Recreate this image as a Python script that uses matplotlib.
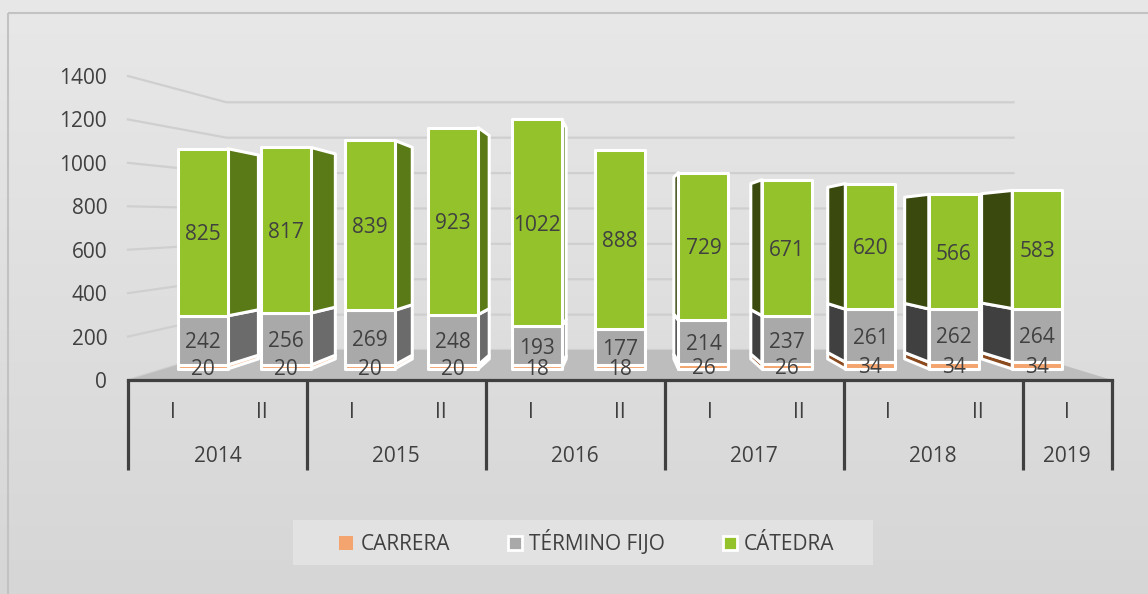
import matplotlib.pyplot as plt
from matplotlib.patches import Polygon, Patch, Rectangle
from matplotlib.colors import LinearSegmentedColormap
import numpy as np

plt.rcParams['font.family'] = ['Open Sans', 'DejaVu Sans']

# semesters per year and staff counts by contract type
periods = ['I', 'II', 'I', 'II', 'I', 'II', 'I', 'II', 'I', 'II', 'I']
years = ['2014', '2015', '2016', '2017', '2018', '2019']
year_span = [2, 2, 2, 2, 2, 1]
carrera = [20, 20, 20, 20, 18, 18, 26, 26, 34, 34, 34]
termino = [242, 256, 269, 248, 193, 177, 214, 237, 261, 262, 264]
catedra = [825, 817, 839, 923, 1022, 888, 729, 671, 620, 566, 583]
yticks = [0, 200, 400, 600, 800, 1000, 1200, 1400]

series = [
    # name, front, side when bar is left of centre, side when right of centre
    ('CARRERA', carrera, '#f4a46e', '#f7bf98', '#8a4a1e'),
    ('TÉRMINO FIJO', termino, '#a9a9a9', '#6b6b6b', '#404040'),
    ('CÁTEDRA', catedra, '#93c22b', '#5a7a17', '#3a4a0e'),
]

W, H = 1148, 594
TXT = '#404040'
FS = 15

# fake 3d: every depth plane is a scaled copy around the vanishing column
VX = 5.5
FRONT = (0.933, 0.933, 51)   # bar front faces
BACK = (0.86, 0.864, 97)     # bar back faces
WALL = (0.80, 0.815, 138)    # back wall of the chart


def proj(c, v, plane):
    sx, sy, y0 = plane
    return VX + (c - VX) * sx, y0 + sy * v


fig = plt.figure(figsize=(W / 100, H / 100), dpi=100)

bg = fig.add_axes([0, 0, 1, 1])
bg.set_xlim(0, W)
bg.set_ylim(H, 0)
bg.axis('off')
cmap = LinearSegmentedColormap.from_list('bg', ['#e8e8e8', '#d6d6d6'])
bg.imshow(np.linspace(0, 1, 256)[:, None], cmap=cmap, extent=(0, W, H, 0),
          aspect='auto')
bg.add_patch(Rectangle((8, 13), W, H, fill=False, ec='#c2c2c2', lw=1.5))
bg.add_patch(Rectangle((293, 520), 580, 45, fc='#e2e2e2', ec='none'))

ax = fig.add_axes([128 / W, (H - 380) / H, 984 / W, 304 / H])
ax.set_xlim(0, 11)
ax.set_ylim(0, 1400)
ax.patch.set_visible(False)
for s in ['left', 'top', 'right']:
    ax.spines[s].set_visible(False)
ax.spines['bottom'].set_color(TXT)
ax.spines['bottom'].set_linewidth(2.3)
ax.spines['bottom'].set_zorder(6)
ax.set_xticks([])
ax.set_yticks(yticks)
ax.tick_params(axis='y', length=0, pad=15, labelsize=FS, labelcolor=TXT)

# gridlines: side wall then back wall
for v in yticks:
    x0, yw = proj(0, v, WALL)
    x1, _ = proj(11, v, WALL)
    ax.plot([0, x0, x1], [v, yw, yw], color='#cfcfcf', lw=1.6, zorder=1,
            solid_joinstyle='miter', clip_on=False)

floor = [(0, 0), (11, 0), proj(11, 0, WALL), proj(0, 0, WALL)]
ax.add_patch(Polygon(floor, closed=True, fc='#bdbdbd', ec='none', zorder=2))

for i in range(len(periods)):
    c = i + 0.5
    el, er = c - 0.3, c + 0.3
    if er < VX:
        side_edge, side_idx = er, 3
    elif el > VX:
        side_edge, side_idx = el, 4
    else:
        side_edge = None
    base = 0
    for name, vals, front_c, lside, rside in series:
        v0, v1 = base, base + vals[i]
        base = v1
        if side_edge is not None:
            col = lside if side_idx == 3 else rside
            quad = [proj(side_edge, v0, FRONT), proj(side_edge, v1, FRONT),
                    proj(side_edge, v1, BACK), proj(side_edge, v0, BACK)]
            ax.add_patch(Polygon(quad, closed=True, fc=col, ec='white',
                                 lw=2.2, joinstyle='round', zorder=3,
                                 clip_on=False))
        xl, yb = proj(el, v0, FRONT)
        xr, yt = proj(er, v1, FRONT)
        ax.add_patch(Polygon([(xl, yb), (xr, yb), (xr, yt), (xl, yt)],
                             closed=True, fc=front_c, ec='white', lw=2.2,
                             joinstyle='round', zorder=4, clip_on=False))
        xc, yc = proj(c, (v0 + v1) / 2, FRONT)
        ax.text(xc, yc, str(vals[i]), ha='center', va='center_baseline',
                fontsize=FS, color=TXT, zorder=7)

# two-level category axis
xt = ax.get_xaxis_transform()
for i, p in enumerate(periods):
    ax.text(i + 0.5, -0.108, p, transform=xt, ha='center', va='center',
            fontsize=FS, color=TXT)
edges = np.concatenate([[0], np.cumsum(year_span)])
for k, y in enumerate(years):
    ax.text((edges[k] + edges[k + 1]) / 2, -0.253, y, transform=xt,
            ha='center', va='center', fontsize=FS, color=TXT)
for b in edges:
    ax.plot([b, b], [0, -0.296], transform=xt, color=TXT, lw=2.3,
            clip_on=False, solid_capstyle='butt')

handles = [Patch(fc=s[2], ec='white' if k else 'none', lw=2)
           for k, s in enumerate(series)]
fig.legend(handles, [s[0] for s in series], loc='center',
           bbox_to_anchor=(587 / W, 1 - 543 / H), ncol=3, frameon=False,
           fontsize=FS, handlelength=0.65, handleheight=0.65,
           handletextpad=0.35, columnspacing=2.8, labelcolor=TXT)

fig.savefig('out.png', dpi=100)
